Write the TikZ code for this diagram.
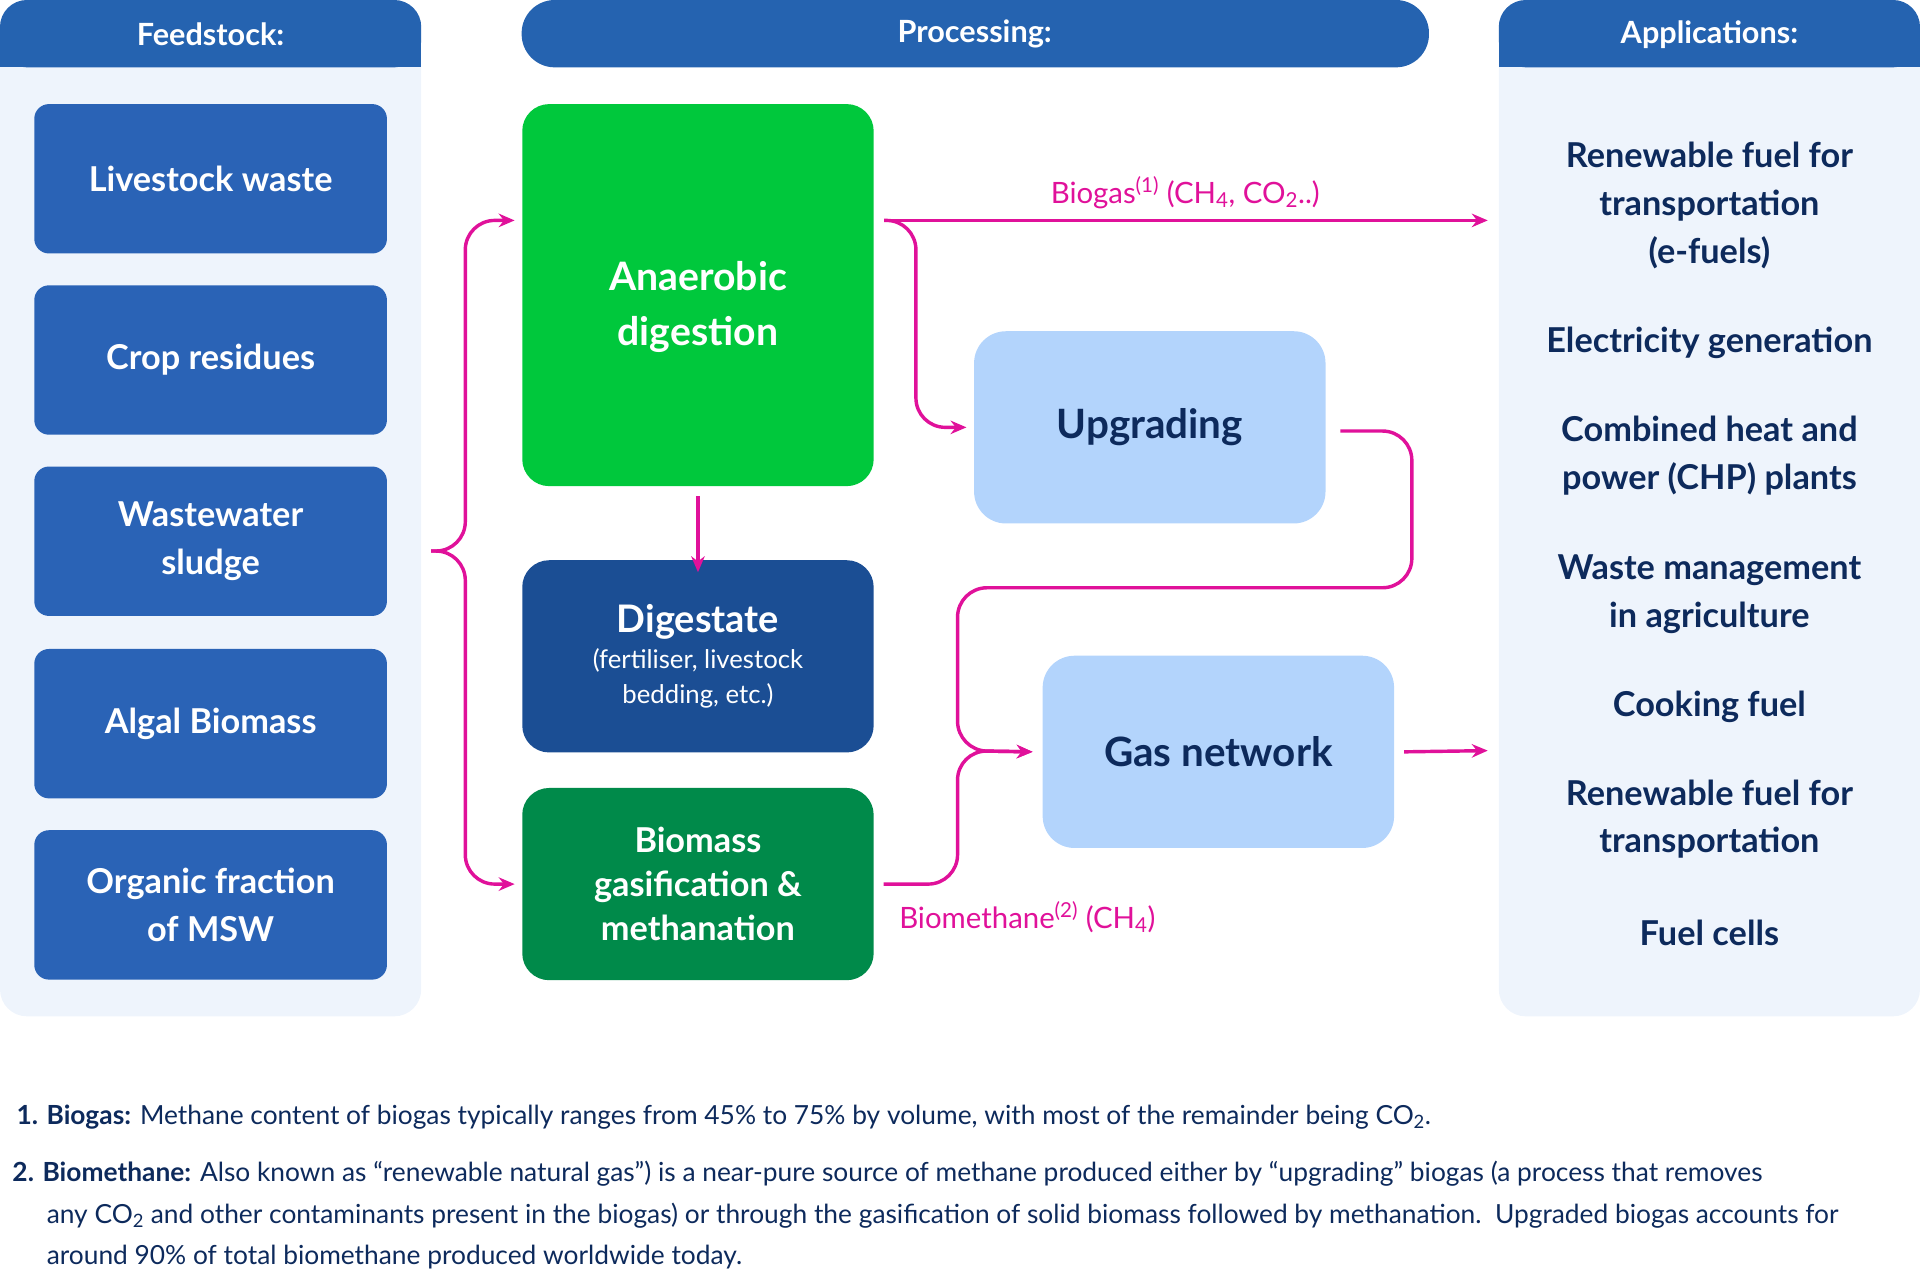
\documentclass[tikz,border=0pt]{standalone}
\usepackage{fontspec}
\setmainfont{Lato}
\usetikzlibrary{arrows.meta}
\definecolor{hdr}{HTML}{2563B0}
\definecolor{fbox}{HTML}{2A63B6}
\definecolor{panel}{HTML}{EEF4FC}
\definecolor{agreen}{HTML}{00C83C}
\definecolor{dblue}{HTML}{1B4E94}
\definecolor{dgreen}{HTML}{008A4A}
\definecolor{lblue}{HTML}{B3D4FC}
\definecolor{mag}{HTML}{E0119A}
\definecolor{navy}{HTML}{0D2A5C}
\begin{document}
\begin{tikzpicture}[x=1pt,y=-1pt,
  fs/.style={fill=fbox,rounded corners=12pt,text=white,font=\fontsize{28}{39}\selectfont\bfseries,align=center},
  app/.style={text=navy,font=\fontsize{28}{39}\selectfont\bfseries,align=center},
  hd/.style={text=white,font=\fontsize{25}{30}\selectfont\bfseries},
  con/.style={mag,line width=2.8pt,rounded corners=24pt},
  arr/.style={-{Stealth[length=13pt,width=11pt]}},
  lab/.style={mag,font=\fontsize{24}{28}\selectfont}]
\useasboundingbox (0,0) rectangle (1568,1044);
% panels
\fill[panel,rounded corners=22pt] (0,0) rectangle (344,830);
\fill[hdr,rounded corners=22pt] (0,0) rectangle (344,55);
\fill[hdr] (0,35) rectangle (344,55);
\node[hd] (hf) at (172,28) {Feedstock:};
\fill[panel,rounded corners=22pt] (1224,0) rectangle (1568,830);
\fill[hdr,rounded corners=22pt] (1224,0) rectangle (1568,55);
\fill[hdr] (1224,35) rectangle (1568,55);
\node[hd] (ha) at (1396,28) {Applications:};
\fill[hdr,rounded corners=27pt] (426,0) rectangle (1167,55);
\node[hd] (hp) at (796,28) {Processing:};
% feedstock
\node[fs,minimum width=288pt,minimum height=122pt] (f1) at (172,146) {Livestock waste};
\node[fs,minimum width=288pt,minimum height=122pt] (f2) at (172,294) {Crop residues};
\node[fs,minimum width=288pt,minimum height=122pt] (f3) at (172,442) {Wastewater\\sludge};
\node[fs,minimum width=288pt,minimum height=122pt] (f4) at (172,591) {Algal Biomass};
\node[fs,minimum width=288pt,minimum height=122pt] (f5) at (172,739) {Organic fraction\\of MSW};
% processing
\node[fill=agreen,rounded corners=22pt,minimum width=287pt,minimum height=312pt] (ad) at (570,241) {};
\node[text=white,font=\fontsize{32}{45}\selectfont\bfseries,align=center] (adt) at (570,251) {Anaerobic\\digestion};
\node[fill=dblue,rounded corners=22pt,minimum width=287pt,minimum height=157pt,text=white,align=center,font=\fontsize{21}{29}\selectfont] (dg) at (570,536) {\fontsize{31}{50}\selectfont\bfseries Digestate\\\fontsize{21}{29}\selectfont (fertiliser, livestock\\\fontsize{21}{29}\selectfont bedding, etc.)};
\node[fill=dgreen,rounded corners=22pt,minimum width=287pt,minimum height=157pt,text=white,font=\fontsize{28}{36}\selectfont\bfseries,align=center] (bg) at (570,722) {Biomass\\gasification \&\\methanation};
\node[fill=lblue,rounded corners=26pt,minimum width=287pt,minimum height=157pt,text=navy,font=\fontsize{33}{40}\selectfont\bfseries] (up) at (939,349) {Upgrading};
\node[fill=lblue,rounded corners=26pt,minimum width=287pt,minimum height=157pt,text=navy,font=\fontsize{33}{40}\selectfont\bfseries] (gn) at (995,614) {Gas network};
% applications
\node[app] (a1) at (1396,168) {Renewable fuel for\\transportation\\(e-fuels)};
\node[app] (a2) at (1396,280) {Electricity generation};
\node[app] (a3) at (1396,372) {Combined heat and\\power (CHP) plants};
\node[app] (a4) at (1396,485) {Waste management\\in agriculture};
\node[app] (a5) at (1396,577) {Cooking fuel};
\node[app] (a6) at (1396,669) {Renewable fuel for\\transportation};
\node[app] (a7) at (1396,762) {Fuel cells};
% connectors
\coordinate (br) at (352,450);
\coordinate (bs) at (722,180);
\draw[con,arr] (br) -| (380,180) -- ([xshift=-6pt]ad.west|-0,180);
\draw[con,arr] (br) -| (380,722) -- ([xshift=-6pt]bg.west);
\draw[con,arr] (bs) -- (1215,180);
\draw[con,arr] (bs) -| (748,349) -- ([xshift=-6pt]up.west);
\draw[con,arr] (ad.south) ++(0,8) -- ([yshift=-10pt]dg.north);
\draw[con,arr] ([xshift=12pt]up.east|-0,352) -| (1153,480) -| (782,613) -- ([xshift=-8pt]gn.west);
\draw[con,arr] ([xshift=8pt]bg.east) -| (782,613) -- ([xshift=-8pt]gn.west);
\draw[con,arr] ([xshift=8pt]gn.east) -- (1215,613);
\node[lab] (l1) at (968,157) {Biogas\textsuperscript{(1)} (CH\textsubscript{4}, CO\textsubscript{2}..)};
\node[lab] (l2) at (839,749) {Biomethane\textsuperscript{(2)} (CH\textsubscript{4})};
% footnotes
\node[anchor=west,text=navy,font=\fontsize{21.5}{34}\selectfont] (n1) at (10,912) {\textbf{1. Biogas:} Methane content of biogas typically ranges from 45\% to 75\% by volume, with most of the remainder being CO\textsubscript{2}.};
\node[anchor=north west,text=navy,font=\fontsize{21.5}{34}\selectfont,align=left,inner sep=0pt] (n2) at (10,948) {\textbf{2. Biomethane:} Also known as “renewable natural gas”) is a near-pure source of methane produced either by “upgrading” biogas (a process that removes\\\hspace*{28pt}any CO\textsubscript{2} and other contaminants present in the biogas) or through the gasification of solid biomass followed by methanation.\ \ Upgraded biogas accounts for\\\hspace*{28pt}around 90\% of total biomethane produced worldwide today.};
\end{tikzpicture}
\end{document}
